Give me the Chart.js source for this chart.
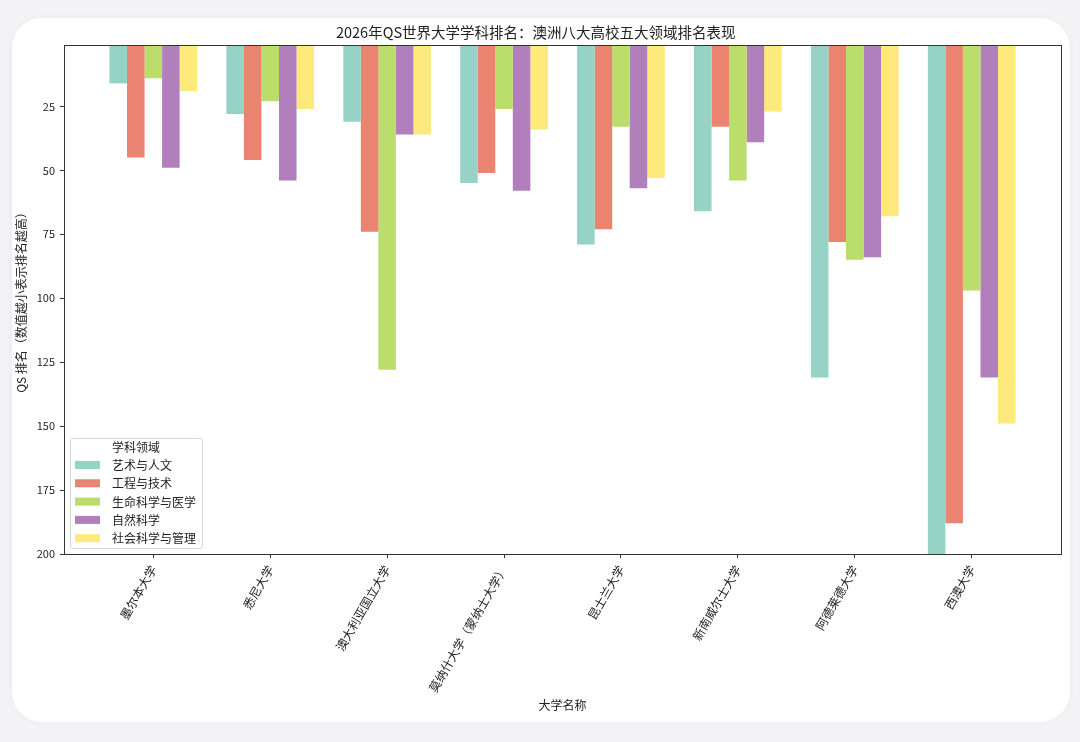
<!DOCTYPE html>
<html lang="zh">
<head>
<meta charset="utf-8">
<script src="https://cdn.jsdelivr.net/npm/chart.js@4.4.1/dist/chart.umd.min.js"></script>
<style>
  html, body { margin: 0; padding: 0; width: 1080px; height: 742px; overflow: hidden; background: #f3f3f5; }
  .card { position: absolute; left: 12px; top: 18px; width: 1058px; height: 704px; background: #ffffff; border-radius: 30px; box-shadow: 0 0 6px rgba(0,0,0,0.04); }
  #c { position: absolute; left: 0; top: 0; }
</style>
</head>
<body>
<div class="card"></div>
<canvas id="c" width="1080" height="742"></canvas>
<script>
// ---- data ----
const universities = ['墨尔本大学', '悉尼大学', '澳大利亚国立大学', '莫纳什大学（蒙纳士大学）', '昆士兰大学', '新南威尔士大学', '阿德莱德大学', '西澳大学'];
const fields = ['艺术与人文', '工程与技术', '生命科学与医学', '自然科学', '社会科学与管理'];
const artsHumanities   = [16, 28, 31, 55, 79, 66, 131, 200];
const engineeringTech  = [45, 46, 74, 51, 73, 33, 78, 188];
const lifeSciMedicine  = [14, 23, 128, 26, 33, 54, 85, 97];
const naturalSciences  = [49, 54, 36, 58, 57, 39, 84, 131];
const socialSciMgmt    = [19, 26, 36, 34, 53, 27, 68, 149];
const yTickValues = [25, 50, 75, 100, 125, 150, 175, 200];

const seriesValues = [artsHumanities, engineeringTech, lifeSciMedicine, naturalSciences, socialSciMgmt];
const colors = ['rgba(150,210,197,1)', 'rgba(234,132,113,1)', 'rgba(186,221,108,1)', 'rgba(177,128,188,1)', 'rgba(253,233,124,1)'];

const FONT = '"Noto Sans CJK SC", "Noto Sans", sans-serif';
const TXT = '#222222';

const datasets = fields.map((name, k) => ({
  label: name,
  data: seriesValues[k].map((v, i) => ({ x: i, y: v })),
  backgroundColor: colors[k],
  borderWidth: 0,
  categoryPercentage: 0.75,
  barPercentage: 1.0
}));

const framePlugin = {
  id: 'frame',
  afterDatasetsDraw(chart) {
    const { ctx, chartArea: a } = chart;
    ctx.save();
    ctx.strokeStyle = '#333333';
    ctx.lineWidth = 1;
    ctx.strokeRect(Math.round(a.left) + 0.5, Math.round(a.top) + 0.5, Math.round(a.right - a.left), Math.round(a.bottom - a.top));
    ctx.restore();
  }
};

const legendPlugin = {
  id: 'insideLegend',
  afterDraw(chart) {
    const { ctx, chartArea: a } = chart;
    const w = 132, h = 110;
    const x = a.left + 6, y = a.bottom - 6 - h;
    ctx.save();
    ctx.beginPath();
    if (ctx.roundRect) ctx.roundRect(x + 0.5, y + 0.5, w, h, 3); else ctx.rect(x + 0.5, y + 0.5, w, h);
    ctx.fillStyle = 'rgba(255,255,255,0.85)';
    ctx.fill();
    ctx.strokeStyle = '#d6d6d6';
    ctx.lineWidth = 1;
    ctx.stroke();
    ctx.font = '12px ' + FONT;
    ctx.fillStyle = TXT;
    ctx.textBaseline = 'middle';
    ctx.textAlign = 'center';
    ctx.fillText('学科领域', x + w / 2, y + 9);
    ctx.textAlign = 'left';
    chart.data.datasets.forEach((ds, i) => {
      const cy = y + 27 + i * 18.3;
      ctx.fillStyle = ds.backgroundColor;
      ctx.fillRect(x + 5, cy - 4, 25, 8);
      ctx.fillStyle = TXT;
      ctx.fillText(ds.label, x + 42, cy + 0.5);
    });
    ctx.restore();
  }
};

new Chart(document.getElementById('c'), {
  type: 'bar',
  data: { datasets },
  options: {
    responsive: false,
    animation: false,
    layout: { padding: { left: 10.5, right: 19, top: 0, bottom: 20 } },
    plugins: {
      legend: { display: false },
      tooltip: { enabled: false },
      title: {
        display: true,
        text: '2026年QS世界大学学科排名：澳洲八大高校五大领域排名表现',
        color: TXT,
        font: { family: FONT, size: 14.5, weight: 'normal' },
        padding: { top: 24, bottom: 3.6 }
      }
    },
    scales: {
      x: {
        type: 'linear',
        offset: false,
        min: -0.764,
        max: 7.764,
        afterBuildTicks(scale) { scale.ticks = universities.map((_, i) => ({ value: i })); },
        afterFit(scale) { scale.height = 168; },
        ticks: {
          autoSkip: false,
          minRotation: 60,
          maxRotation: 60,
          padding: 5,
          color: TXT,
          font: { family: FONT, size: 12 },
          callback: (v) => universities[v] ?? ''
        },
        grid: { display: true, offset: false, drawOnChartArea: false, drawTicks: true, tickLength: 4, color: '#333333' },
        border: { display: true, color: '#333333' },
        title: {
          display: true,
          text: '大学名称',
          color: TXT,
          font: { family: FONT, size: 12 },
          padding: { top: 4, bottom: 9 }
        }
      },
      y: {
        type: 'linear',
        reverse: true,
        min: 1,
        max: 200,
        afterBuildTicks(scale) { scale.ticks = yTickValues.map(v => ({ value: v })); },
        afterFit(scale) { scale.width = 53.5; },
        ticks: {
          padding: 5,
          color: TXT,
          font: { family: FONT, size: 11 }
        },
        grid: { display: true, drawOnChartArea: false, drawTicks: true, tickLength: 4, color: '#333333' },
        border: { display: true, color: '#333333' },
        title: {
          display: true,
          text: 'QS 排名（数值越小表示排名越高）',
          color: TXT,
          font: { family: FONT, size: 12 },
          padding: { top: 4, bottom: 4 }
        }
      }
    }
  },
  plugins: [framePlugin, legendPlugin]
});
</script>
</body>
</html>
